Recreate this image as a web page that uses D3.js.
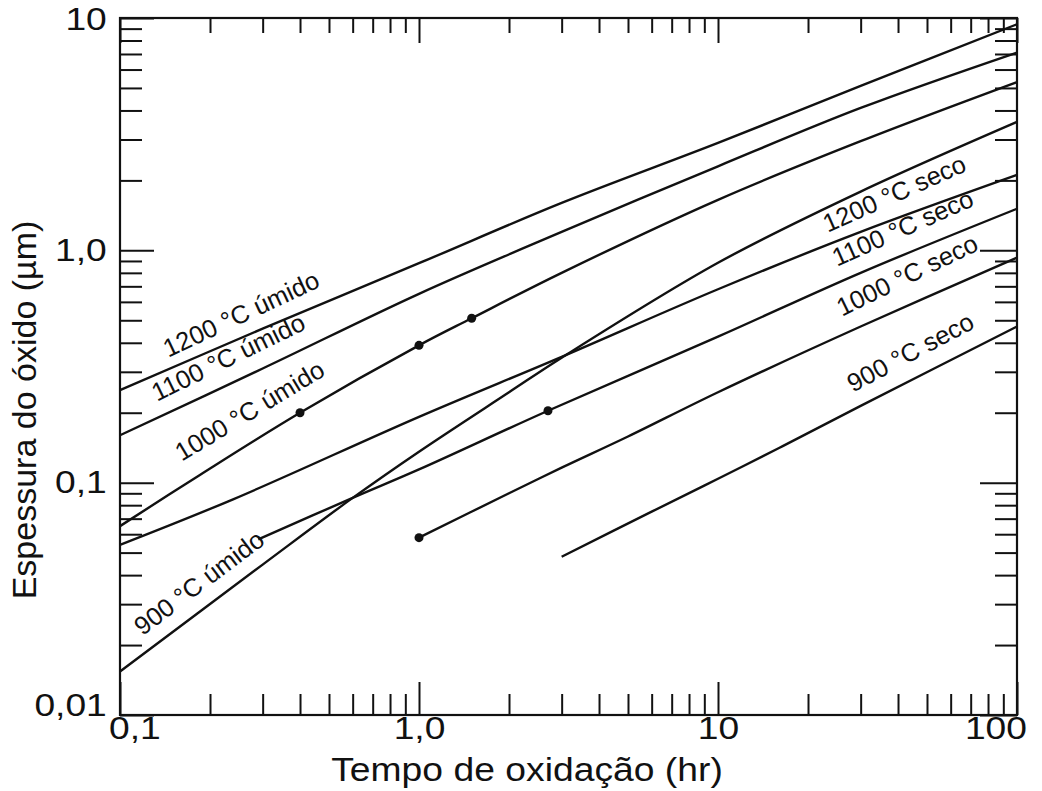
<!DOCTYPE html>
<html>
<head>
<meta charset="utf-8">
<script src="https://cdn.jsdelivr.net/npm/d3@7"></script>
<style>
  body { margin: 0; background: #fff; }
  text { font-family: "Liberation Sans", Arial, sans-serif; fill: #111; }
</style>
</head>
<body>
<div id="graph_div"></div>
<script>
// Curvas de oxidação: [tempo (hr), espessura (µm)]
const umido1200 = [[0.1, 0.25], [0.3, 0.46], [1, 0.88], [3, 1.6], [10, 2.9], [30, 5.1], [100, 9.4]];
const umido1100 = [[0.1, 0.16], [0.3, 0.31], [1, 0.65], [3, 1.2], [10, 2.3], [30, 4.1], [100, 7.1]];
const umido1000 = [[0.1, 0.065], [0.185, 0.108], [0.4, 0.2], [1, 0.39], [1.5, 0.51], [3, 0.8], [10, 1.65], [30, 2.95], [100, 5.3]];
const umido900 = [[0.1, 0.0154], [0.3, 0.0444], [0.6, 0.086], [1, 0.136], [2, 0.245], [3, 0.345], [10, 0.884], [30, 1.79], [100, 3.57]];
const seco1200 = [[0.1, 0.054], [0.24, 0.085], [1, 0.192], [3, 0.348], [10, 0.68], [30, 1.2], [100, 2.11]];
const seco1100 = [[0.29, 0.057], [0.6, 0.086], [1, 0.114], [2.7, 0.204], [10, 0.425], [30, 0.8], [100, 1.51]];
const seco1000 = [[1, 0.058], [2, 0.09], [3, 0.116], [5, 0.158], [10, 0.245], [30, 0.47], [100, 0.93]];
const seco900 = [[3, 0.048], [6, 0.075], [10, 0.104], [16, 0.141], [30, 0.214], [100, 0.47]];

// pontos marcados
const pontos = [[0.4, 0.2], [1, 0.39], [1.5, 0.51], [1, 0.058], [2.7, 0.204]];

// rótulos dos eixos
const xTicks = [0.1, 1, 10, 100];
const xTickLabels = ["0,1", "1,0", "10", "100"];
const yTicks = [0.01, 0.1, 1, 10];
const yTickLabels = ["0,01", "0,1", "1,0", "10"];

const curvas = [umido1200, umido1100, umido1000, umido900, seco1200, seco1100, seco1000, seco900];

// onde vai cada nome de curva (tempo, espessura, ângulo)
const rotulos = [
  { texto: "1200 °C úmido", t: 0.145, e: 0.345, ang: -25 },
  { texto: "1100 °C úmido", t: 0.133, e: 0.223, ang: -26 },
  { texto: "1000 °C úmido", t: 0.161, e: 0.123, ang: -31 },
  { texto: "900 °C úmido", t: 0.119, e: 0.0218, ang: -37 },
  { texto: "1200 °C seco", t: 23.3, e: 1.19, ang: -24 },
  { texto: "1100 °C seco", t: 25, e: 0.85, ang: -24 },
  { texto: "1000 °C seco", t: 26, e: 0.518, ang: -26 },
  { texto: "900 °C seco", t: 28.3, e: 0.244, ang: -28 }
];

const width = 1042;
const height = 791;
const margin = { top: 18, right: 25, bottom: 76, left: 120 };

const x = d3.scaleLog().domain([0.1, 100]).range([margin.left, width - margin.right]);
const y = d3.scaleLog().domain([0.01, 10]).range([height - margin.bottom, margin.top]);

const svg = d3.select("#graph_div")
  .append("svg").attr("width", width).attr("height", height);

// marcas menores 2..9 em cada década
function menores(lo, hi) {
  const v = [];
  for (let p = lo; p < hi; p *= 10) {
    for (let k = 2; k <= 9; k++) v.push(p * k);
  }
  return v;
}
const xMinor = menores(0.1, 100);
const yMinor = menores(0.01, 10);

const x0 = x.range()[0], x1 = x.range()[1];
const y0 = y.range()[0], y1 = y.range()[1];

// a figura original é um pouco esticada na horizontal
const esticar = 1.2;

function estilo(g) {
  g.select(".domain").remove();
  g.selectAll("line").attr("stroke", "#111").attr("stroke-width", 2);
  g.selectAll("text").style("font-size", "31px").attr("fill", "#111")
    .attr("transform", `scale(${esticar},1)`);
}

// eixo inferior
svg.append("g").attr("transform", `translate(0,${y0})`)
  .call(d3.axisBottom(x).tickValues(xMinor).tickSize(-21).tickFormat("")).call(estilo);
const gx = svg.append("g").attr("transform", `translate(0,${y0})`)
  .call(d3.axisBottom(x).tickValues(xTicks).tickSize(-33).tickPadding(2)
    .tickFormat((d, i) => xTickLabels[i])).call(estilo);
gx.selectAll(".tick text").filter(d => d === 0.1).attr("dx", 12);
gx.selectAll(".tick text").filter(d => d === 100).attr("dx", -18);

// eixo superior
svg.append("g").attr("transform", `translate(0,${y1})`)
  .call(d3.axisTop(x).tickValues(xMinor).tickSize(-15).tickFormat("")).call(estilo);
svg.append("g").attr("transform", `translate(0,${y1})`)
  .call(d3.axisTop(x).tickValues(xTicks).tickSize(-25).tickFormat("")).call(estilo);

// eixo esquerdo
svg.append("g").attr("transform", `translate(${x0},0)`)
  .call(d3.axisLeft(y).tickValues(yMinor).tickSize(-22).tickFormat("")).call(estilo);
const gy = svg.append("g").attr("transform", `translate(${x0},0)`)
  .call(d3.axisLeft(y).tickValues(yTicks).tickSize(-34).tickPadding(11)
    .tickFormat((d, i) => yTickLabels[i])).call(estilo);
gy.selectAll(".tick text").filter(d => d === 0.01).attr("dy", "0.0em");
gy.selectAll(".tick text").filter(d => d === 10).attr("dy", "0.38em");

// eixo direito
svg.append("g").attr("transform", `translate(${x1},0)`)
  .call(d3.axisRight(y).tickValues(yMinor).tickSize(-22).tickFormat("")).call(estilo);
svg.append("g").attr("transform", `translate(${x1},0)`)
  .call(d3.axisRight(y).tickValues(yTicks).tickSize(-37).tickFormat("")).call(estilo);

// moldura
svg.append("rect")
  .attr("x", x0).attr("y", y1)
  .attr("width", x1 - x0).attr("height", y0 - y1)
  .attr("fill", "none").attr("stroke", "#111").attr("stroke-width", 2.2);

const line = d3.line()
  .x(d => x(d[0]))
  .y(d => y(d[1]))
  .curve(d3.curveCatmullRom.alpha(0.5));

svg.selectAll("path.curva")
  .data(curvas)
  .enter().append("path")
  .attr("class", "curva")
  .attr("fill", "none")
  .attr("stroke", "#111")
  .attr("stroke-width", 2.4)
  .attr("d", line);

svg.selectAll("circle.ponto")
  .data(pontos)
  .enter().append("circle")
  .attr("class", "ponto")
  .attr("cx", d => x(d[0]))
  .attr("cy", d => y(d[1]))
  .attr("r", 4.5)
  .attr("fill", "#111");

svg.selectAll("text.rotulo")
  .data(rotulos)
  .enter().append("text")
  .attr("class", "rotulo")
  .attr("transform", d => `translate(${x(d.t)},${y(d.e)}) rotate(${d.ang})`)
  .style("font-size", "25.5px")
  .text(d => d.texto);

// títulos dos eixos
svg.append("text")
  .attr("transform", `translate(527,781) scale(1.13,1)`)
  .attr("text-anchor", "middle")
  .style("font-size", "33px")
  .text("Tempo de oxidação (hr)");

svg.append("text")
  .attr("transform", `translate(36,410) rotate(-90)`)
  .attr("text-anchor", "middle")
  .style("font-size", "34px")
  .text("Espessura do óxido (µm)");
</script>
</body>
</html>
